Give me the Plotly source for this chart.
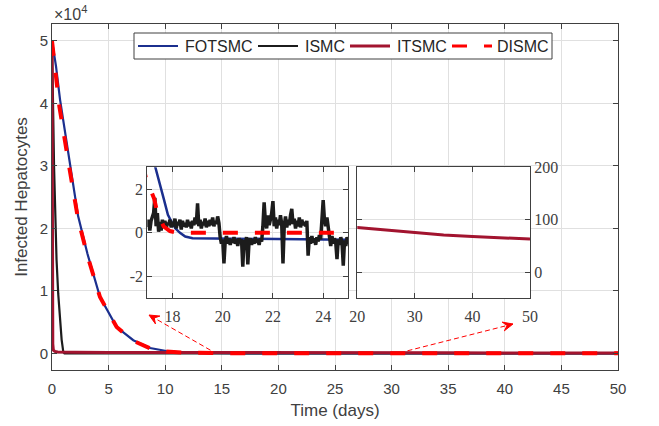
import math
import plotly.graph_objects as go

# ---- time responses (infected hepatocytes, cells) ----
fotsmc_t = [0, 0.35, 0.71, 1.6, 2.3, 3.12, 3.93, 4.24, 5.71, 7.18, 8.66, 10.1, 11.6,
            13.0, 15.0, 16.0, 16.5, 17.0, 17.32, 17.65, 17.82, 18.0, 18.12, 18.3,
            18.51, 18.8, 20.0, 22.0, 24.0, 25.0, 50.0]
fotsmc_v = [50000, 46000, 40600, 30000, 22000, 16000, 10700, 9000, 4200, 2100, 850, 370, 120,
            60, 25, 12, 8, 5.5, 3.0, 1.58, 0.82, 0.42, 0.2, 0.0,
            -0.17, -0.25, -0.27, -0.29, -0.31, -0.32, -0.4]

dismc_t = [0, 0.3, 0.65, 1.55, 2.3, 3.1, 3.93, 4.24, 5.71, 7.18, 8.66, 10.1, 11.6,
           13.0, 15.0, 16.0, 17.0, 17.27, 17.39, 17.65, 17.9, 18.2, 25.0, 50.0]
dismc_v = [50000, 44500, 39500, 29500, 21500, 15800, 10600, 9000, 4200, 2000, 800, 300, 100,
           30, 12, 6, 2.35, 1.57, 0.97, 0.29, 0.08, 0.0, 0.0, 0.0]

itsmc_t = [0, 0.02, 0.04, 0.07, 0.12, 0.25, 0.5, 1, 2, 5, 10, 15, 20, 25, 30, 35, 40, 45, 50]
itsmc_v = [50000, 30000, 8000, 1500, 500, 300, 230, 200, 180, 150, 120, 100,
           85, 80, 75, 71, 68, 65, 63]

# ISMC: fast transient, then chattering about zero
ismc_head_t = [0, 0.05, 0.1, 0.18, 0.27, 0.4, 0.55, 0.7, 0.85, 1.0, 1.1, 2, 5, 10, 15, 16.95]
ismc_head_v = [50000, 46000, 39000, 30000, 22000, 15000, 9500, 5000, 2200, 200,
               0.5, -0.3, 0.4, -0.4, 0.5, 0.4]
# chattering samples every 0.05 day from t = 17 to t = 25
ismc_chatter_start = 17.0
ismc_chatter_step = 0.05
ismc_chatter_v = [
    0.3, 0.6, 0.1, 0.55, 0.7, 0.9, 1.6, 0.3, 0.9, 0.05,
    0.5, 0.1, 0.6, 0.3, 0.55, 0.2, 0.45, 0.35, 0.6, 0.25,
    0.5, 0.3, 0.65, 0.2, 0.5, 0.35, 0.6, 0.15, 0.55, 0.3,
    0.45, 0.25, 0.6, 0.3, 0.5, 0.2, 0.55, 0.35, 0.7, 0.4,
    1.35, 0.3, 0.6, 0.2, 0.5, 0.35, 0.65, 0.25, 0.55, 0.3,
    0.6, 0.35, 0.7, 0.3, 0.55, 0.4, 0.75, 0.45,
    -0.2, -0.5, -0.3, -1.4, -0.4, -0.15, -0.5, -0.25, -0.55, -0.3,
    -0.45, -0.2, -0.5, -0.3, -0.6, -0.25, -0.45, -0.3, -1.55, -0.35,
    -0.5, -0.2, -1.45, -0.4, -0.25, -0.55, -0.3, -0.5, -0.2, -0.45,
    -0.3, -0.55, -0.25, -0.4,
    0.3, 1.4, 0.5, 0.2, 0.8, 0.35, 0.6, 0.9, 1.45, 0.3,
    0.7, 0.2, 0.6, 0.35, 0.8, 0.4, -1.4, 0.3, 0.75, 0.25,
    0.6, 0.35, 0.8, 1.1, 0.4, 0.65, 0.2, 0.55, 0.3, 0.7,
    0.25, 0.6, 0.35, 0.5, 0.3, 0.55,
    -1.05, -0.2, -0.5, -0.15, -0.45, -0.25, -0.55, -0.2, -0.4, -0.1, -0.3,
    0.5, 1.5, 0.6, 0.3, 0.7, 0.2,
    -0.3, -0.6, -0.15, -0.5, -0.25, -0.45, -1.2, -0.3, -0.55, -0.2,
    -0.45, -1.5, -0.35, -0.6, -0.2, -0.45,
]
ismc_tail_t = [50.0]
ismc_tail_v = [0.3]

ismc_chatter_t = [round(ismc_chatter_start + i * ismc_chatter_step, 4)
                  for i in range(len(ismc_chatter_v))]
ismc_t = ismc_head_t + ismc_chatter_t + ismc_tail_t
ismc_v = ismc_head_v + ismc_chatter_v + ismc_tail_v

series_names = ["FOTSMC", "ISMC", "ITSMC", "DISMC"]

# ---- styling ----
C_BLUE = "#1b2f8e"
C_BLACK = "#1c1c1c"
C_DRED = "#A2142F"
C_RED = "#FF0000"
AX = "#404040"
GRID = "#e0e0e0"
SANS = "Liberation Sans, Arial, sans-serif"
SERIF = "Liberation Serif, Times New Roman, serif"

W, H = 659, 426
ML, MR, MT, MB = 52, 41, 24, 56
PW, PH = W - ML - MR, H - MT - MB
X_RANGE = [0, 50]
Y_RANGE = [-2670, 52700]
DASH_RED = "15px,17px"

styles = {
    "FOTSMC": dict(color=C_BLUE, width=2.2),
    "ISMC": dict(color=C_BLACK, width=2.2),
    "ITSMC": dict(color=C_DRED, width=3),
    "DISMC": dict(color=C_RED, width=4, dash=DASH_RED),
}
data = {
    "FOTSMC": (fotsmc_t, fotsmc_v),
    "ISMC": (ismc_t, ismc_v),
    "ITSMC": (itsmc_t, itsmc_v),
    "DISMC": (dismc_t, dismc_v),
}

fig = go.Figure()

# main axes
for name in series_names:
    t, v = data[name]
    fig.add_trace(go.Scatter(x=t, y=v, mode="lines", name=name, showlegend=False,
                             line=styles[name]))

# inset 1: t in [17, 25]
fig.add_trace(go.Scatter(x=fotsmc_t, y=fotsmc_v, mode="lines", showlegend=False,
                         line=dict(color=C_BLUE, width=2.5), xaxis="x2", yaxis="y2"))
fig.add_trace(go.Scatter(x=ismc_t, y=ismc_v, mode="lines", showlegend=False,
                         line=dict(color=C_BLACK, width=3.5), xaxis="x2", yaxis="y2"))
fig.add_trace(go.Scatter(x=dismc_t, y=dismc_v, mode="lines", showlegend=False,
                         line=dict(color=C_RED, width=4, dash=DASH_RED),
                         xaxis="x2", yaxis="y2"))

# inset 2: t in [20, 50]
fig.add_trace(go.Scatter(x=itsmc_t, y=itsmc_v, mode="lines", showlegend=False,
                         line=dict(color=C_DRED, width=3), xaxis="x3", yaxis="y3"))

common = dict(showline=True, linecolor=AX, linewidth=1, mirror="ticks",
              ticks="inside", ticklen=5, tickcolor=AX, showgrid=True,
              gridcolor=GRID, gridwidth=1, zeroline=False, automargin=False)

main_y_ticks = [0, 10000, 20000, 30000, 40000, 50000]
main_y_text = ["0", "1", "2", "3", "4", "5"]

fig.update_layout(
    width=W, height=H,
    margin=dict(l=ML, r=MR, t=MT, b=MB),
    paper_bgcolor="white", plot_bgcolor="white",
    showlegend=False,
    xaxis=dict(**common, domain=[0, 1], range=X_RANGE,
               tickvals=list(range(0, 51, 5)), ticklabelstandoff=5,
               tickfont=dict(family=SANS, size=15, color=AX),
               title=dict(text="Time (days)", font=dict(family=SANS, size=17, color=AX),
                          standoff=8)),
    yaxis=dict(**common, domain=[0, 1], range=Y_RANGE,
               tickvals=main_y_ticks, ticktext=main_y_text,
               tickfont=dict(family=SANS, size=15, color=AX),
               title=dict(text="Infected Hepatocytes",
                          font=dict(family=SANS, size=17, color=AX), standoff=7)),
    xaxis2=dict(**common, domain=[0.1684, 0.5235], anchor="y2", range=[17, 25],
                tickvals=[18, 20, 22, 24], ticklabelstandoff=3,
                tickfont=dict(family=SERIF, size=16, color=AX)),
    yaxis2=dict(**common, domain=[0.2072, 0.5858], anchor="x2", range=[-3, 3],
                tickvals=[-2, 0, 2], ticktext=["-2", "0", "2"],
                tickfont=dict(family=SERIF, size=16, color=AX)),
    xaxis3=dict(**common, domain=[0.5394, 0.8445], anchor="y3", range=[20, 50],
                tickvals=[20, 30, 40, 50], ticklabelstandoff=3,
                tickfont=dict(family=SERIF, size=16, color=AX)),
    yaxis3=dict(**common, domain=[0.2072, 0.5858], anchor="x3", side="right",
                range=[-50, 200], tickvals=[0, 100, 200],
                tickfont=dict(family=SERIF, size=16, color=AX)),
)


def px_to_paper(px, py):
    return (px - ML) / PW, (H - MB - py) / PH


# exponent label for the main y axis
fig.add_annotation(xref="paper", yref="paper", x=0.0, y=1.0, xanchor="left",
                   yanchor="bottom", yshift=-1, showarrow=False,
                   text="\u00d710<sup>4</sup>",
                   font=dict(family=SANS, size=16, color=AX))

# legend box drawn across the top of the axes
lx0, ly0 = px_to_paper(134, 33)
lx1, ly1 = px_to_paper(552, 59)
fig.add_shape(type="rect", xref="paper", yref="paper", x0=lx0, y0=ly1, x1=lx1, y1=ly0,
              line=dict(color=AX, width=1), fillcolor="white", layer="above")
legend_sample_x = [138, 258, 350, 452]
legend_text_x = [183, 303, 395, 495]
legend_y = 46
for name, sx, tx in zip(series_names, legend_sample_x, legend_text_x):
    st = styles[name]
    xa, ya = px_to_paper(sx, legend_y)
    xb, _ = px_to_paper(sx + 40, legend_y)
    fig.add_shape(type="line", xref="paper", yref="paper", x0=xa, y0=ya, x1=xb, y1=ya,
                  line=dict(color=st["color"], width=min(st["width"], 3),
                            dash=st.get("dash", "solid")), layer="above")
    xt, yt = px_to_paper(tx, legend_y)
    fig.add_annotation(xref="paper", yref="paper", x=xt, y=yt, xanchor="left",
                       yanchor="middle", showarrow=False, text=name,
                       font=dict(family=SANS, size=16, color="#262626"))

# dashed pointers from the main curves to the two insets
px_per_day = PW / (X_RANGE[1] - X_RANGE[0])
px_per_cell = PH / (Y_RANGE[1] - Y_RANGE[0])
pointers = [
    dict(x0=14.0, y0=500, x1=8.57, y1=6130),
    dict(x0=31.4, y0=400, x1=40.72, y1=4690),
]
for p in pointers:
    fig.add_shape(type="line", xref="x", yref="y", x0=p["x0"], y0=p["y0"],
                  x1=p["x1"], y1=p["y1"],
                  line=dict(color=C_RED, width=1, dash="5px,3px"))
    dx = (p["x1"] - p["x0"]) * px_per_day
    dy = (p["y1"] - p["y0"]) * px_per_cell
    n = math.hypot(dx, dy)
    ux, uy = dx / n, dy / n
    nx, ny = -uy, ux
    L, Wd, N = 10.0, 4.5, 6.0
    b1 = (-L * ux + Wd * nx, -L * uy + Wd * ny)
    b2 = (-L * ux - Wd * nx, -L * uy - Wd * ny)
    nt = (-N * ux, -N * uy)
    path = (f"M0,0 L{b1[0]:.2f},{b1[1]:.2f} L{nt[0]:.2f},{nt[1]:.2f} "
            f"L{b2[0]:.2f},{b2[1]:.2f} Z")
    fig.add_shape(type="path", xref="x", yref="y", xsizemode="pixel", ysizemode="pixel",
                  xanchor=p["x1"], yanchor=p["y1"], path=path,
                  fillcolor=C_RED, line=dict(color=C_RED, width=1))

fig.write_html("out.html")
